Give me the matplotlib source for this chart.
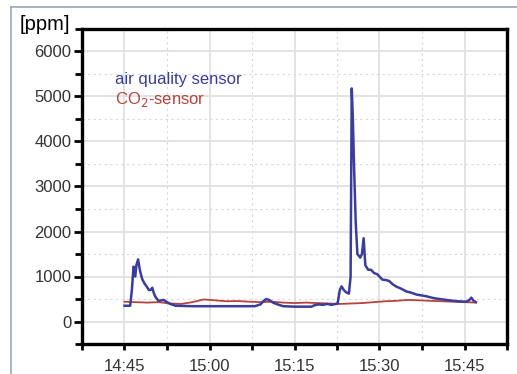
import numpy as np
import pandas as pd
import matplotlib
matplotlib.use('Agg')
import matplotlib.pyplot as plt
import matplotlib.dates as mdates
from matplotlib.lines import Line2D

plt.rcParams['font.family'] = ['Liberation Sans', 'DejaVu Sans']

# minutes after 14:45 and ppm values
air_t = [0, 1.0, 1.3, 1.6, 1.9, 2.1, 2.4, 2.7, 3.1, 3.5, 3.9, 4.3, 4.6, 4.9, 5.2, 5.5,
         6.0, 6.5, 6.9, 7.5, 8.1, 9.0, 12, 16, 20, 23, 24.0, 24.5, 25.0, 25.5, 26.2,
         27.0, 28.0, 30, 33, 33.5, 34.2, 35, 35.8, 36.5, 37.3, 37.6, 38.0, 38.3, 38.7,
         39.1, 39.6, 39.9, 40.1, 40.3, 40.5, 40.8, 41.1, 41.6, 41.9, 42.2, 42.5, 43.0,
         43.5, 44.0, 44.6, 45.0, 45.5, 46.2, 46.7, 47.3, 47.9, 48.8, 49.7, 50.6, 51.5,
         52.4, 53.3, 54.2, 55.0, 56.2, 57.3, 58.8, 60.3, 60.8, 61.2, 61.6, 62.0]
air_v = [350, 350, 700, 1220, 1000, 1250, 1380, 1150, 950, 850, 780, 700, 700, 750, 620, 540,
         460, 470, 480, 430, 390, 350, 340, 340, 340, 340, 380, 450, 500, 480, 420,
         380, 340, 330, 330, 360, 380, 370, 390, 370, 390, 400, 700, 780, 700,
         650, 620, 1000, 5180, 4500, 3500, 2200, 1500, 1420, 1500, 1850, 1250, 1150,
         1150, 1080, 1050, 1000, 930, 920, 900, 830, 780, 730, 670, 640, 600,
         580, 560, 530, 510, 490, 470, 450, 440, 470, 530, 460, 430]

co2_t = [0, 2, 4, 6, 8, 10, 12, 14, 16, 18, 20, 22, 24, 26, 28, 30, 32, 34, 36, 38,
         40, 42, 44, 46, 48, 50, 52, 54, 56, 58, 60, 62]
co2_v = [440, 430, 420, 430, 400, 390, 430, 490, 470, 450, 455, 440, 430, 440, 420, 410,
         420, 410, 400, 390, 400, 410, 430, 450, 460, 480, 470, 460, 450, 440, 430, 420]

start = pd.Timestamp('2020-01-01 14:45')
air_time = start + pd.to_timedelta(air_t, unit='min')
co2_time = start + pd.to_timedelta(co2_t, unit='min')

blue = '#3a3d9a'
red = '#b8433b'

fig = plt.figure(figsize=(5.17, 3.74), dpi=100)
ax = fig.add_axes([82/517, 1 - 344/374, 425/517, 315/374])

ax.plot(air_time, air_v, color=blue, lw=1.8, zorder=3)
ax.plot(co2_time, co2_v, color=red, lw=1.3, zorder=2)

ax.set_xlim(pd.Timestamp('2020-01-01 14:37:30'), pd.Timestamp('2020-01-01 15:52:30'))
ax.set_ylim(-500, 6500)
ax.set_yticks(np.arange(0, 6001, 1000))
ax.set_yticks(np.arange(-500, 6501, 500), minor=True)
ax.xaxis.set_major_locator(mdates.MinuteLocator(byminute=[0, 15, 30, 45]))
minor_x = pd.date_range('2020-01-01 14:37:30', '2020-01-01 15:52:30', freq='450s')
ax.set_xticks(minor_x, minor=True)
ax.xaxis.set_major_formatter(mdates.DateFormatter('%H:%M'))

ax.grid(which='major', color='#e0e0e0', lw=1.3, ls='-')
ax.grid(which='minor', color='#d8d8d8', lw=0.8, ls=(0, (2, 3)))
ax.set_axisbelow(True)

for s in ax.spines.values():
    s.set_linewidth(2.4)
ax.tick_params(axis='both', which='both', direction='out', width=2, colors='black',
               labelcolor='#333333', labelsize=12)
ax.tick_params(axis='y', which='major', length=6, pad=1.5)
ax.tick_params(axis='y', which='minor', length=5)
ax.tick_params(axis='x', which='both', length=4, pad=7)

fig.text(20/517, 1 - 24/374, '[ppm]', fontsize=14.5, va='center', ha='left', color='black')
ax.text(0.077, 0.84, 'air quality sensor', transform=ax.transAxes, color=blue,
        fontsize=12, va='center')
ax.text(0.077, 0.775, 'CO$_2$-sensor', transform=ax.transAxes, color=red,
        fontsize=12, va='center')

# thin frame of the original screenshot
fig.add_artist(Line2D([11/517, 1], [1 - 7/374, 1 - 7/374], color='#9aa8b0', lw=1.2))
fig.add_artist(Line2D([11/517, 11/517], [0, 1 - 7/374], color='#9aa8b0', lw=1.2))

fig.savefig('out.png', dpi=100)
